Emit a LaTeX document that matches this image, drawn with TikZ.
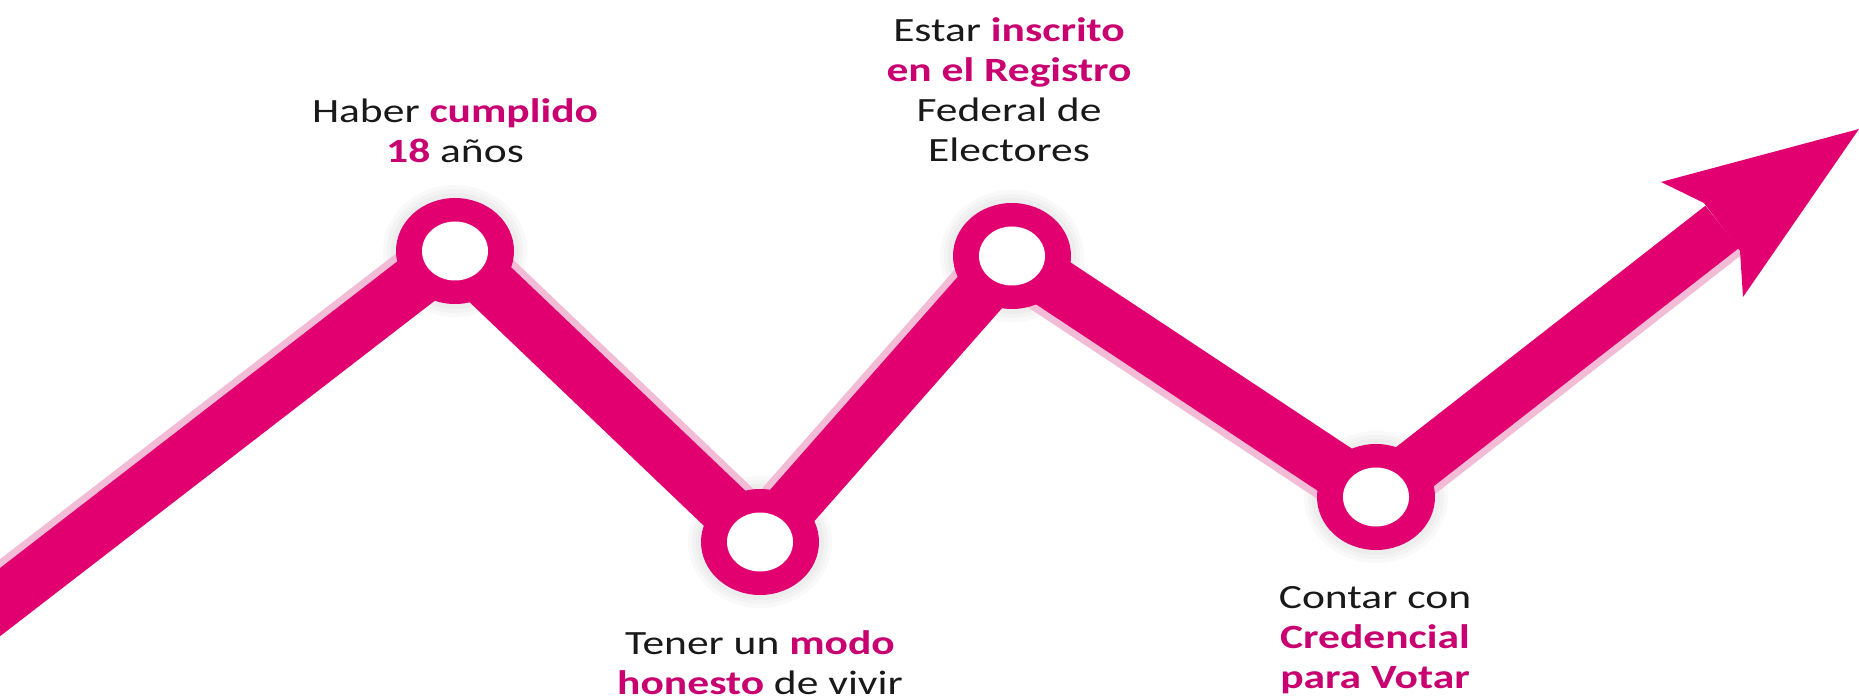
\documentclass[tikz,border=0pt]{standalone}
\usepackage{fontspec}
\setmainfont{Carlito}[FakeStretch=1.28]
\usetikzlibrary{shapes.geometric}
\definecolor{band}{RGB}{226,0,112}
\definecolor{txtpink}{RGB}{200,0,112}
\definecolor{shade}{RGB}{243,188,214}
\definecolor{txtdark}{RGB}{25,25,25}
\newcommand{\pinkb}[1]{\textcolor{txtpink}{\bfseries #1}}
\begin{document}
\begin{tikzpicture}[x=1pt,y=-1pt,
  lbl/.style={align=center, font=\fontsize{34}{40}\selectfont, text=txtdark, inner sep=0pt, anchor=base},
  ring/.style={ellipse, fill=band, minimum width=118pt, minimum height=106pt, inner sep=0pt},
  hole/.style={ellipse, fill=white, minimum width=66pt, minimum height=59pt, inner sep=0pt},
  bandline/.style={line width=54pt, draw=band, line join=round},
  shadeline/.style={line width=54pt, draw=shade},
  halo/.style={fill=black, opacity=0.025},
]
\useasboundingbox (0,0) rectangle (1859,700);
\coordinate (s) at (-40,633);
\coordinate (p1) at (455,251);
\coordinate (p2) at (760,542);
\coordinate (p3) at (1012,256);
\coordinate (p4) at (1376,497);
\coordinate (hm) at (1722,227);
\coordinate (tip) at (1859,129);
\coordinate (b1) at (1661,182);
\coordinate (k1) at (1704,203);
\coordinate (k2) at (1740,251);
\coordinate (b2) at (1743,297);
% halos
\foreach \p in {p1,p2,p3,p4}{
  \fill[halo] (\p) ellipse [x radius=72pt, y radius=66pt];
  \fill[halo] (\p) ellipse [x radius=68pt, y radius=62pt];
  \fill[halo] (\p) ellipse [x radius=64pt, y radius=58pt];
}
% light pink shadows
\begin{scope}[transform canvas={shift={(-4.3pt,5.5pt)}}]
  \draw[shadeline] (s) -- (p1);
\end{scope}
\begin{scope}[transform canvas={shift={(4.8pt,5.0pt)}}]
  \draw[shadeline] (p1) -- (p2);
\end{scope}
\begin{scope}[transform canvas={shift={(-5.2pt,4.6pt)}}]
  \draw[shadeline] (p2) -- (p3);
\end{scope}
\begin{scope}[transform canvas={shift={(-3.9pt,-5.8pt)}}]
  \draw[shadeline] (p3) -- (p4);
\end{scope}
\begin{scope}[transform canvas={shift={(4.3pt,-5.5pt)}}]
  \draw[shadeline] (p4) -- (hm);
\end{scope}
% band
\draw[bandline] (s) -- (p1) -- (p2) -- (p3) -- (p4) -- (hm);
\fill[band] (tip) -- (b1) -- (k1) -- (k2) -- (b2) -- cycle;
% rings
\node[ring] (n1) at (p1) {};
\node[hole] (h1) at (n1) {};
\node[ring] (n2) at (p2) {};
\node[hole] (h2) at (n2) {};
\node[ring] (n3) at (p3) {};
\node[hole] (h3) at (n3) {};
\node[ring] (n4) at (p4) {};
\node[hole] (h4) at (n4) {};
% labels (anchored at the baseline of their last line)
\node[lbl] (t1) at (455,163) {Haber \pinkb{cumplido}\\\pinkb{18} años};
\node[lbl] (t3) at (1009,162) {Estar \pinkb{inscrito}\\\pinkb{en el Registro}\\Federal de\\Electores};
\node[lbl] (t2) at (760,694) {Tener un \pinkb{modo}\\\pinkb{honesto} de vivir};
\node[lbl] (t4) at (1375,688) {Contar con\\\pinkb{Credencial}\\\pinkb{para Votar}};
\end{tikzpicture}
\end{document}
